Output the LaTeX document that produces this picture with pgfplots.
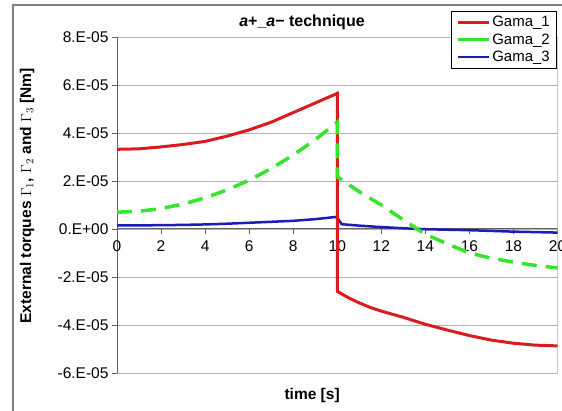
\documentclass[border=0pt]{standalone}
\usepackage{fontspec}
\setmainfont{Liberation Sans}
\usepackage{pgfplots}
\pgfplotsset{compat=1.18}

\definecolor{gred}{RGB}{218,28,32}
\definecolor{ggreen}{RGB}{55,228,45}
\definecolor{gblue}{RGB}{28,28,185}
\definecolor{frame}{RGB}{128,128,128}
\newcommand{\ff}{\fontsize{15.5}{18}\selectfont}

\begin{document}
\begin{tikzpicture}[x=1pt,y=1pt]
\useasboundingbox (0,0) rectangle (562,410);
\clip (0,0) rectangle (562,410);
\fill[white] (0,0) rectangle (562,410);
% outer chart frame (cropped on the right and bottom)
\draw[frame, line width=2pt] (12.7,-10) -- (12.7,404.5) -- (600,404.5);

\begin{axis}[
    at={(117pt,37pt)}, anchor=south west,
    scale only axis, width=440.5pt, height=336pt,
    xmin=0, xmax=20, ymin=-6e-5, ymax=8e-5,
    scaled y ticks=false,
    axis x line=middle, axis y line=left,
    axis line style={-, draw=gray!75!black, line width=1pt},
    hide obscured x ticks=false, hide obscured y ticks=false,
    xtick={0,2,4,6,8,10,12,14,16,18,20},
    xticklabels={0,2,4,6,8,10,12,14,16,18,20},
    tick label style={font=\ff},
    xticklabel style={yshift=-3pt},
    ytick={-6e-5,-4e-5,-2e-5,0,2e-5,4e-5,6e-5,8e-5},
    yticklabels={-6.E-05,-4.E-05,-2.E-05,0.E+00,2.E-05,4.E-05,6.E-05,8.E-05},
    tick align=outside, major tick length=5pt,
    tick style={gray!75!black, line width=0.9pt},
    ymajorgrids, grid style={gray!60, line width=0.9pt},
    xlabel={\bfseries time [s]},
    xlabel style={font=\ff, at={(axis description cs:0.443,-0.068)}, anchor=center},
    ylabel={\bfseries External torques $\Gamma_1$, $\Gamma_2$ and $\Gamma_3$ [Nm]},
    ylabel style={font=\ff, at={(axis description cs:-0.204,0.527)}, anchor=center},
    legend style={at={(axis description cs:0.758,1.078)}, anchor=north west,
        draw=black, line width=0.7pt, fill=white,
        font=\fontsize{15}{15}\selectfont,
        inner xsep=5pt, inner ysep=3pt, row sep=1.5pt},
    legend cell align=left,
    legend image code/.code={\draw[#1] (0pt,0pt) -- (31pt,0pt);},
]
% plot area border (right and bottom)
\draw[gray!60, line width=0.9pt] (rel axis cs:0,0) -- (rel axis cs:1,0) -- (rel axis cs:1,1);

\addlegendimage{gred, line width=3pt}
\addlegendentry{Gama\_1}
\addlegendimage{ggreen, line width=3pt}
\addlegendentry{Gama\_2}
\addlegendimage{gblue, line width=2.5pt}
\addlegendentry{Gama\_3}

% Gama_3
\addplot[gblue, line width=2.5pt, forget plot] coordinates {
    (0,0.15e-5)(1,0.15e-5)(2,0.16e-5)(3,0.17e-5)(4,0.19e-5)(5,0.22e-5)
    (6,0.26e-5)(7,0.30e-5)(8,0.34e-5)(9,0.41e-5)(9.9,0.50e-5)(10,0.47e-5)
    (10.2,0.20e-5)(11,0.14e-5)(12,0.08e-5)(13,0.03e-5)(14,-0.01e-5)
    (15,-0.03e-5)(16,-0.05e-5)(17,-0.08e-5)(18,-0.11e-5)(19,-0.13e-5)(20,-0.15e-5)
};
% Gama_1
\addplot[gred, line width=3pt, forget plot] coordinates {
    (0,3.32e-5)(1,3.34e-5)(2,3.42e-5)(3,3.52e-5)(4,3.65e-5)(5,3.87e-5)
    (6,4.13e-5)(7,4.45e-5)(8,4.85e-5)(9,5.25e-5)(10,5.65e-5)
    (10,-2.60e-5)(10.5,-2.86e-5)(11,-3.08e-5)(11.5,-3.27e-5)(12,-3.42e-5)
    (13,-3.68e-5)(14,-3.97e-5)(15,-4.21e-5)(16,-4.44e-5)(17,-4.63e-5)
    (18,-4.76e-5)(19,-4.84e-5)(20,-4.87e-5)
};
% Gama_2
\addplot[ggreen, line width=3.5pt, dash pattern=on 15pt off 9pt, forget plot] coordinates {
    (0,0.70e-5)(1,0.74e-5)(2,0.85e-5)(3,1.04e-5)(4,1.30e-5)(5,1.63e-5)
    (6,2.03e-5)(7,2.52e-5)(8,3.08e-5)(9,3.72e-5)(10,4.45e-5)
    (10,2.18e-5)(11,1.55e-5)(12,1.00e-5)(13,0.38e-5)(14,-0.22e-5)
    (15,-0.62e-5)(16,-1.00e-5)(17,-1.22e-5)(18,-1.38e-5)(19,-1.52e-5)(20,-1.62e-5)
};
\end{axis}
% chart title, centred on the chart area as in the reference
\node[font=\fontsize{16}{19}\selectfont\bfseries, anchor=center] at (302,388)
    {\itshape a\upshape +\_\itshape a\upshape − technique};
\end{tikzpicture}
\end{document}
